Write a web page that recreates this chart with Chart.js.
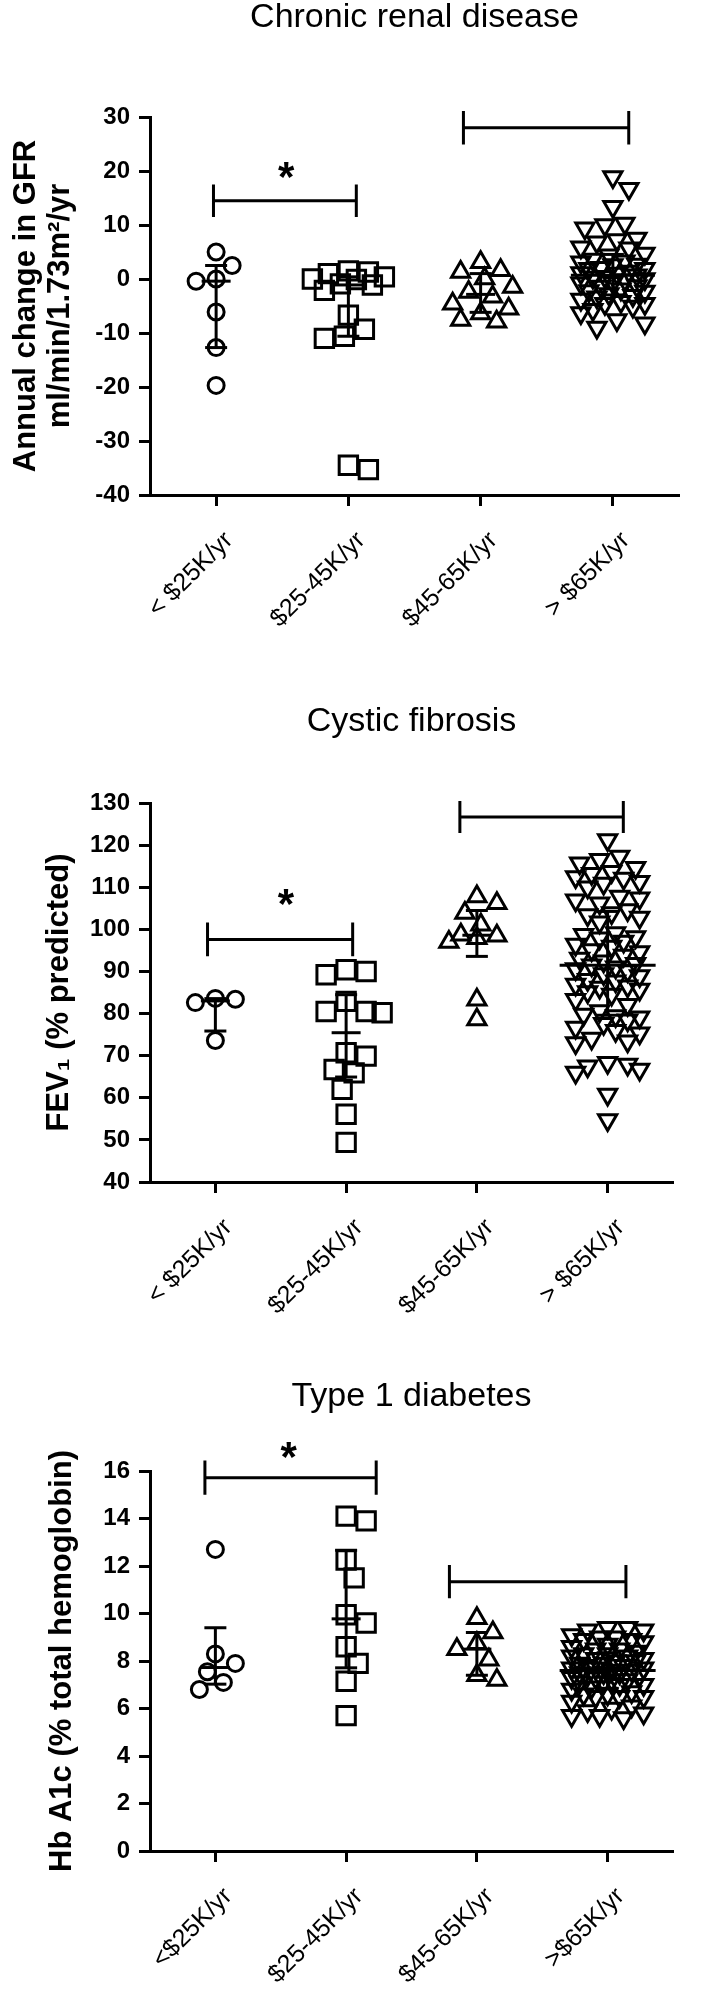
<!DOCTYPE html>
<html>
<head>
<meta charset="utf-8">
<title>Disease outcomes by household income</title>
<script src="https://cdn.jsdelivr.net/npm/chart.js@4.4.1/dist/chart.umd.min.js"></script>
<style>
  html, body { margin: 0; padding: 0; background: #fff; }
  body { position: relative; width: 724px; height: 1989px; overflow: hidden; }
  canvas { position: absolute; left: 0; display: block; }
</style>
</head>
<body>
<canvas id="crdChart" width="724" height="650" style="top:0"></canvas>
<canvas id="cfChart" width="724" height="685" style="top:650px"></canvas>
<canvas id="t1dChart" width="724" height="654" style="top:1335px"></canvas>
<script>
// --- DATA ---
const incomeLabels = ['< $25K/yr', '$25-45K/yr', '$45-65K/yr', '> $65K/yr'];
const incomeLabelsT1d = ['<$25K/yr', '$25-45K/yr', '$45-65K/yr', '>$65K/yr'];

// Chronic renal disease: annual change in GFR
const crdUnder25 = [5.0, 2.5, 0.0, -0.4, -6.1, -12.7, -19.7];
const crd25to45 = [1.5, 1.3, 1.0, 0.4, 0.0, -0.1, -0.9, -1.1, -2.1, -6.7, -9.3, -10.6, -11.0, -34.5, -35.3];
const crd45to65 = [3.1, 1.6, 1.3, 0.1, -1.5, -2.4, -3.3, -4.6, -5.5, -6.4, -7.6, -7.9];
const crdOver65 = [18.9, 16.7, 13.4, 10.3, 10.0, 9.4, 7.5, 7.2, 6.8, 5.9, 5.7, 4.7, 4.4,
  3.6, 3.3, 3.1, 2.7, 2.6, 2.1, 1.9, 1.9, 1.4, 1.1, 1.0, 0.7, 0.4, 0.3, 0.0, -0.2, -0.7,
  -0.8, -1.3, -1.4, -1.9, -2.2, -2.3, -2.8, -3.1,
  -3.4, -3.8, -4.2, -4.6, -4.6, -5.1, -5.7, -6.3, -7.6, -8.2, -9.0];

// Cystic fibrosis: FEV1 % predicted
const cfUnder25 = [83.6, 83.4, 82.6, 73.6];
const cf25to45 = [90.4, 90.0, 89.2, 82.9, 80.5, 80.5, 80.2, 70.7, 69.9, 66.7, 65.9, 62.0, 56.1, 49.4];
const cf45to65 = [107.8, 106.2, 103.9, 101.1, 98.7, 98.5, 97.9, 97.0, 83.3, 78.6];
const cfOver65 = [121.2, 117.3, 116.5, 115.7, 114.6, 113.7, 113.2, 112.4, 112.1, 111.3, 110.9, 110.0,
  107.8, 107.4, 106.9, 106.2, 104.6, 103.9, 103.4, 102.8, 101.7,
  99.1, 98.7, 98.2, 97.9, 97.1, 96.4, 95.9, 95.1, 94.6, 93.8, 93.1, 92.4, 91.8, 91.5, 91.0,
  90.6, 90.1, 89.4, 88.9, 88.0, 87.7, 86.9, 86.5, 86.2, 85.7, 85.1, 84.5,
  83.3, 82.1, 80.6, 79.8, 79.4, 79.1, 78.4, 77.6, 76.7, 75.9, 75.3, 74.1, 73.4, 73.0,
  68.3, 67.9, 67.5, 66.7, 66.0, 60.8, 54.7];

// Type 1 diabetes: Hb A1c
const t1dUnder25 = [12.7, 8.3, 7.9, 7.55, 7.1, 6.8];
const t1d25to45 = [14.1, 13.9, 12.25, 11.5, 9.95, 9.6, 8.6, 7.9, 7.15, 5.7];
const t1d45to65 = [9.8, 9.2, 8.75, 8.5, 8.05, 7.4, 7.2];
const t1dOver65 = [9.4, 9.4, 9.3, 9.3, 9.1, 9.0, 9.0, 8.9, 8.9, 8.8,
  8.7, 8.6, 8.5, 8.5, 8.4, 8.3, 8.3, 8.2, 8.2, 8.1, 8.1, 8.0,
  8.0, 7.9, 7.9, 7.8, 7.8, 7.7, 7.7, 7.7, 7.6, 7.6, 7.5, 7.5, 7.5,
  7.4, 7.4, 7.3, 7.3, 7.2, 7.2, 7.1, 7.1, 7.0, 7.0,
  6.9, 6.8, 6.7, 6.6, 6.6, 6.5, 6.5, 6.5, 6.3, 6.1, 6.0,
  5.9, 5.8, 5.7, 5.7, 5.6];

// significance brackets: [from group, to group, y, half tick height]
const crdBrackets = [[-0.02, 1.06, 14.5, 3.0], [1.87, 3.12, 28.0, 3.1]];
const cfBrackets = [[-0.06, 1.05, 97.6, 4.0], [1.87, 3.12, 126.7, 3.8]];
const t1dBrackets = [[-0.08, 1.23, 15.72, 0.72], [1.79, 3.14, 11.34, 0.7]];
// asterisks: [group position, y]
const crdStars = [[0.53, 20.2]];
const cfStars = [[0.54, 107.7]];
const t1dStars = [[0.56, 16.9]];

// --- STYLE ---
const FONT = '"Liberation Sans", Arial, Helvetica, sans-serif';
Chart.defaults.font.family = FONT;
Chart.defaults.color = '#000';

const MARKERS = [
    { style: 'circle', radius: 8, rotation: 0 },
    { style: 'rect', radius: 13, rotation: 0 },
    { style: 'triangle', radius: 10.5, rotation: 0 },
    { style: 'triangle', radius: 10.5, rotation: 180 }
];
const CAP_HALF = 11;
const SWARM_STEP = 4;
const SWARM_GAP = 19;

// GraphPad style percentile (n+1 method)
function quantile(vals, p) {
    const s = [...vals].sort((a, b) => a - b);
    const n = s.length;
    const pos = p * (n + 1);
    if (pos <= 1) return s[0];
    if (pos >= n) return s[n - 1];
    const lo = Math.floor(pos);
    return s[lo - 1] + (pos - lo) * (s[lo] - s[lo - 1]);
}

const starPlugin = {
    id: 'stars',
    afterDatasetsDraw(chart, args, opts) {
        const { ctx, scales: { x, y } } = chart;
        ctx.save();
        ctx.font = 'bold 42px ' + FONT;
        ctx.fillStyle = '#000';
        ctx.textAlign = 'center';
        ctx.textBaseline = 'alphabetic';
        const m = ctx.measureText('*');
        const shift = (m.actualBoundingBoxAscent - m.actualBoundingBoxDescent) / 2;
        (opts.stars || []).forEach(s => {
            ctx.fillText('*', x.getPixelForValue(s[0]), y.getPixelForValue(s[1]) + shift);
        });
        ctx.restore();
    }
};

// simple beeswarm: push points sideways until they stop overlapping
function spreadGroups(chart, groups, maxHalf) {
    const xs = chart.scales.x, ys = chart.scales.y;
    const pxPerUnit = xs.getPixelForValue(1) - xs.getPixelForValue(0);
    groups.forEach((vals, gi) => {
        const placed = [];
        const offs = new Array(vals.length).fill(0);
        const order = vals.map((v, i) => i).sort((a, b) => vals[b] - vals[a]);
        const limit = Math.floor(maxHalf[gi] / SWARM_STEP);
        order.forEach(i => {
            const py = ys.getPixelForValue(vals[i]);
            let best = 0, bestD = -1;
            for (let k = 0; k <= 2 * limit; k++) {
                const dx = (k % 2 ? 1 : -1) * Math.ceil(k / 2) * SWARM_STEP;
                let dmin = Infinity;
                placed.forEach(p => { dmin = Math.min(dmin, Math.hypot(p.x - dx, p.y - py)); });
                if (dmin >= SWARM_GAP) { best = dx; bestD = dmin; break; }
                if (dmin > bestD) { bestD = dmin; best = dx; }
            }
            placed.push({ x: best, y: py });
            offs[i] = best;
        });
        chart.data.datasets[gi].data = vals.map((v, i) => ({ x: gi + offs[i] / pxPerUnit, y: v }));
    });
    chart.update('none');
}

function makePanel(p) {
    const stats = p.groups.map(vals => ({
        med: quantile(vals, 0.5), q1: quantile(vals, 0.25), q3: quantile(vals, 0.75)
    }));
    const black = { borderColor: '#000', backgroundColor: 'rgba(0,0,0,0)', borderWidth: 3, clip: false };

    const datasets = p.groups.map((vals, i) => ({
        ...black,
        data: vals.map(v => ({ x: i, y: v })),
        pointStyle: MARKERS[i].style,
        pointRadius: MARKERS[i].radius,
        pointRotation: MARKERS[i].rotation
    }));
    stats.forEach((s, i) => {
        datasets.push({ ...black, data: [{ x: i, y: s.q1 }, { x: i, y: s.q3 }], showLine: true, pointRadius: 0 });
    });
    datasets.push({
        ...black,
        data: stats.map((s, i) => ({ x: i, y: s.med })),
        pointStyle: 'line', pointRadius: p.medianHalf
    });
    datasets.push({
        ...black,
        data: stats.flatMap((s, i) => [{ x: i, y: s.q1 }, { x: i, y: s.q3 }]),
        pointStyle: 'line', pointRadius: CAP_HALF
    });
    p.brackets.forEach(([x1, x2, y, h]) => {
        datasets.push({
            ...black,
            data: [{ x: x1, y: y - h }, { x: x1, y: y + h }, { x: x1, y: y }, { x: x2, y: y }, { x: x2, y: y + h }, { x: x2, y: y - h }],
            showLine: true, pointRadius: 0
        });
    });

    const chart = new Chart(document.getElementById(p.id), {
        type: 'scatter',
        data: { datasets: datasets },
        plugins: [starPlugin],
        options: {
            responsive: false,
            animation: false,
            events: [],
            layout: { padding: 0 },
            plugins: {
                legend: { display: false },
                tooltip: { enabled: false },
                stars: { stars: p.stars },
                title: {
                    display: true,
                    text: p.title,
                    fullSize: false,
                    color: '#000',
                    font: { size: 34, weight: 'normal', lineHeight: 1 },
                    padding: { top: p.titlePad[0], bottom: p.titlePad[1] }
                }
            },
            scales: {
                x: {
                    type: 'linear',
                    min: -0.5,
                    max: 3.5,
                    afterBuildTicks: s => { s.ticks = [0, 1, 2, 3].map(v => ({ value: v })); },
                    afterFit: s => { s.height = p.xHeight; },
                    ticks: {
                        autoSkip: false,
                        minRotation: 45,
                        maxRotation: 45,
                        padding: 20,
                        labelOffset: 13,
                        color: '#000',
                        font: { size: 25 },
                        callback: v => p.labels[v]
                    },
                    grid: { drawOnChartArea: false, drawTicks: true, tickLength: 11, tickWidth: 3, tickColor: '#000' },
                    border: { display: true, width: 3, color: '#000' }
                },
                y: {
                    min: p.yMin,
                    max: p.yMax,
                    afterFit: s => { s.width = 150; },
                    ticks: {
                        stepSize: p.yStep,
                        padding: 9,
                        color: '#000',
                        font: { size: 24, weight: 'bold' }
                    },
                    grid: { drawOnChartArea: false, drawTicks: true, tickLength: 11, tickWidth: 3, tickColor: '#000' },
                    border: { display: true, width: 3, color: '#000' },
                    title: {
                        display: true,
                        text: p.yTitle,
                        color: '#000',
                        font: { size: 31, weight: 'bold', lineHeight: 1.1 },
                        padding: { top: p.yTitlePad, bottom: 0 }
                    }
                }
            }
        }
    });
    spreadGroups(chart, p.groups, p.swarmHalf);
    return chart;
}

makePanel({
    id: 'crdChart',
    title: 'Chronic renal disease',
    titlePad: [0.5, 82.5],
    yTitle: ['Annual change in GFR', 'ml/min/1.73m\u00b2/yr'],
    yTitlePad: 9,
    yMin: -40, yMax: 30, yStep: 10,
    xHeight: 155,
    labels: incomeLabels,
    groups: [crdUnder25, crd25to45, crd45to65, crdOver65],
    brackets: crdBrackets,
    stars: crdStars,
    medianHalf: [14.5, 14.5, 14.5, 42],
    swarmHalf: [34, 36, 34, 35]
});

makePanel({
    id: 'cfChart',
    title: 'Cystic fibrosis',
    titlePad: [55, 64],
    yTitle: 'FEV\u2081 (% predicted)',
    yTitlePad: 42,
    yMin: 40, yMax: 130, yStep: 10,
    xHeight: 153,
    labels: incomeLabels,
    groups: [cfUnder25, cf25to45, cf45to65, cfOver65],
    brackets: cfBrackets,
    stars: cfStars,
    medianHalf: [14.5, 14.5, 14.5, 48],
    swarmHalf: [34, 36, 30, 34]
});

makePanel({
    id: 't1dChart',
    title: 'Type 1 diabetes',
    titlePad: [45, 57],
    yTitle: 'Hb A1c (% total hemoglobin)',
    yTitlePad: 45,
    yMin: 0, yMax: 16, yStep: 2,
    xHeight: 138,
    labels: incomeLabelsT1d,
    groups: [t1dUnder25, t1d25to45, t1d45to65, t1dOver65],
    brackets: t1dBrackets,
    stars: t1dStars,
    medianHalf: [14.5, 14.5, 14.5, 48],
    swarmHalf: [34, 36, 32, 36]
});
</script>
</body>
</html>
